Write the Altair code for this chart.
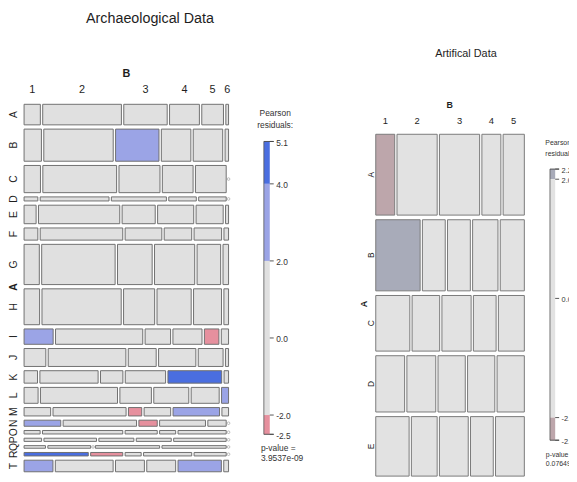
import altair as alt
import pandas as pd

# ---------------- data ----------------
left_title = "Archaeological Data"
left_rows = ["A", "B", "C", "D", "E", "F", "G", "H", "I", "J",
             "K", "L", "M", "N", "O", "P", "Q", "R", "T"]
left_cols = ["1", "2", "3", "4", "5", "6"]
left_counts = [
    [6, 29, 16, 11, 8, 1],
    [10, 40, 25, 17, 17, 2],
    [8, 36, 20, 15, 15, 0],
    [1, 5, 4, 2, 2, 0],
    [4, 27, 11, 12, 9, 1],
    [3, 18, 8, 6, 6, 1],
    [11, 53, 25, 29, 17, 4],
    [10, 51, 20, 22, 18, 3],
    [8, 24, 7, 8, 4, 2],
    [7, 25, 9, 12, 8, 1],
    [3, 13, 5, 9, 12, 1],
    [4, 22, 9, 10, 8, 2],
    [4, 11, 2, 4, 7, 1],
    [4, 8, 2, 5, 2, 0],
    [1, 5, 2, 1, 3, 0],
    [1, 3, 2, 2, 3, 0],
    [1, 2, 0, 3, 3, 0],
    [4, 2, 1, 3, 2, 0],
    [6, 12, 6, 6, 9, 1],
]
left_resid = [
    [0.0, 0.3, -0.4, 0.2, -0.6, 0.1],
    [-0.5, -1.2, 3.1, -0.3, 0.4, 0.2],
    [-0.2, 0.1, 0.3, 0.1, 0.9, -0.9],
    [0.1, 0.2, 0.6, 0.1, -0.2, -0.3],
    [-1.0, 1.2, -0.4, 0.6, 0.2, 0.3],
    [-0.4, 1.1, 0.3, -0.3, 0.2, 0.8],
    [-0.4, -0.5, 0.2, 1.2, -0.6, 1.0],
    [-0.4, 0.6, -0.2, 0.2, 0.1, 0.2],
    [2.8, 0.4, -0.5, 0.3, -2.2, 1.3],
    [0.9, 0.5, -0.1, 0.7, -0.1, 0.0],
    [-0.5, -0.3, -0.5, 0.4, 5.1, 0.6],
    [-0.3, 0.4, 0.3, 0.3, 0.0, 2.5],
    [1.2, 0.1, -2.1, -0.1, 3.2, 0.8],
    [2.6, 0.0, -2.3, 1.1, -0.2, -0.6],
    [0.0, 0.6, 0.3, -0.4, 1.0, -0.4],
    [0.4, -0.1, 0.5, 0.4, 1.3, -0.4],
    [0.5, -0.2, -1.3, 1.1, 1.4, -0.3],
    [4.6, -2.5, -0.6, 0.8, 0.3, -0.5],
    [3.1, -0.6, 0.4, -0.3, 3.3, 0.1],
]
left_legend_values = [5.1, 4.0, 2.0, 0.0, -2.0, -2.5]
left_legend_labels = ["5.1", "4.0", "2.0", "0.0", "-2.0", "-2.5"]
left_pvalue = "3.9537e-09"

right_title = "Artifical Data"
right_rows = ["A", "B", "C", "D", "E"]
right_cols = ["1", "2", "3", "4", "5"]
right_counts = [
    [17, 36, 36, 17, 19],
    [35, 18, 18, 20, 19],
    [21, 17, 18, 14, 16],
    [18, 18, 17, 17, 17],
    [22, 17, 19, 15, 19],
]
right_resid = [
    [-2.38, 0.6, 0.5, -0.4, 0.1],
    [2.17, -1.1, -1.0, 0.2, -0.3],
    [0.4, 0.1, 0.1, -0.3, 0.0],
    [-0.3, 0.3, 0.0, 0.4, -0.1],
    [0.2, -0.4, 0.2, -0.2, 0.3],
]
right_legend_values = [2.17, 2.0, 0.0, -2.0, -2.38]
right_legend_labels = ["2.2", "2.0", "0.0", "-2.0", "-2.4"]
right_pvalue = "0.07649"

# ---------------- layout / style ----------------
PAGE_W, PAGE_H, M = 577, 482, 8
W, H = PAGE_W - M, PAGE_H - M
XS = alt.Scale(domain=[M, PAGE_W], range=[0, W], nice=False, zero=False)
YS = alt.Scale(domain=[M, PAGE_H], range=[0, H], nice=False, zero=False)
FONT = "Liberation Sans"
TXT = "#1e1e1e"

LEFT_PAL = ["#e2606f", "#e6909e", "#e0e0e0", "#9ba4e6", "#4a6ee0"]
RIGHT_PAL = ["#b98f98", "#bda6ab", "#e2e2e2", "#a8abb9", "#8f93a8"]
THRESH = [-4, -2, 2, 4]


def mosaic(rows, cols, counts, resid, box, hgap, vgap):
    x0, x1, y0, y1 = box
    totals = [sum(r) for r in counts]
    n_all = sum(totals)
    avail_h = (y1 - y0) - vgap * (len(rows) - 1)
    avail_w = (x1 - x0) - hgap * (len(cols) - 1)
    recs = []
    y = y0
    for i, r in enumerate(rows):
        h = avail_h * totals[i] / n_all
        x = x0
        for j, c in enumerate(cols):
            w = avail_w * counts[i][j] / totals[i]
            recs.append(dict(row=r, col=c, n=counts[i][j], res=resid[i][j],
                             x=x, x2=x + w, y=y, y2=y + h,
                             xm=x + w / 2, ym=y + h / 2))
            x += w + hgap
        y += h + vgap
    return pd.DataFrame(recs)


def cells_layer(df, pal, stroke):
    return alt.Chart(df[df.n > 0]).mark_rect(stroke=stroke, strokeWidth=1).encode(
        x=alt.X("x:Q", scale=XS, axis=None), x2="x2:Q",
        y=alt.Y("y:Q", scale=YS, axis=None), y2="y2:Q",
        color=alt.Color("res:Q", scale=alt.Scale(type="threshold", domain=THRESH, range=pal),
                        legend=None),
    )


def zeros_layer(df):
    z = df[df.n == 0]
    return alt.Chart(z).mark_point(shape="circle", size=7, filled=False,
                                   color="#8a8a8a", strokeWidth=0.8).encode(
        x=alt.X("xm:Q", scale=XS, axis=None), y=alt.Y("ym:Q", scale=YS, axis=None))


def text_layer(df, size, weight="normal", angle=0, align="center", color=TXT, dy=0):
    return alt.Chart(df).mark_text(font=FONT, fontSize=size, fontWeight=weight, angle=angle,
                                   align=align, baseline="middle", color=color, dy=dy).encode(
        x=alt.X("x:Q", scale=XS, axis=None), y=alt.Y("y:Q", scale=YS, axis=None),
        text="t:N")


def legend_layers(values, labels, top_y, bot_y, bx0, bx1, pal, size):
    vmax, vmin = values[0], values[-1]

    def py(v):
        return top_y + (vmax - v) * (bot_y - top_y) / (vmax - vmin)

    bounds = [vmax] + [b for b in sorted(THRESH, reverse=True) if vmin < b < vmax] + [vmin]
    segs = pd.DataFrame([dict(y=py(hi), y2=py(lo), mid=(hi + lo) / 2, x=bx0, x2=bx1)
                         for hi, lo in zip(bounds[:-1], bounds[1:])])
    bar = alt.Chart(segs).mark_rect().encode(
        x=alt.X("x:Q", scale=XS, axis=None), x2="x2:Q",
        y=alt.Y("y:Q", scale=YS, axis=None), y2="y2:Q",
        color=alt.Color("mid:Q", scale=alt.Scale(type="threshold", domain=THRESH, range=pal),
                        legend=None))
    edge = alt.Chart(pd.DataFrame([dict(x=bx0, y=py(vmax), y2=py(vmin))])).mark_rule(
        color="#555555", strokeWidth=0.8).encode(
        x=alt.X("x:Q", scale=XS, axis=None), y=alt.Y("y:Q", scale=YS, axis=None), y2="y2:Q")
    ticks = pd.DataFrame([dict(x=bx1, x2=bx1 + 4, y=py(v)) for v in values])
    ends = pd.DataFrame([dict(x=bx0, x2=bx1 + 4, y=py(v)) for v in (vmax, vmin)])
    tick_l = alt.Chart(pd.concat([ticks, ends])).mark_rule(color="#444444", strokeWidth=0.9).encode(
        x=alt.X("x:Q", scale=XS, axis=None), x2="x2:Q", y=alt.Y("y:Q", scale=YS, axis=None))
    labs = pd.DataFrame([dict(x=bx1 + 6.5, y=py(v), t=l) for v, l in zip(values, labels)])
    lab_l = text_layer(labs, size, align="left", color="#333333", dy=1.5)
    return [bar, edge, tick_l, lab_l]


# ---------------- left mosaic ----------------
L_BOX = (24.3, 231.7, 102.3, 475.0)
ldf = mosaic(left_rows, left_cols, left_counts, left_resid, L_BOX, 2.4, 4.3)
l_top = ldf[ldf.row == left_rows[0]]
l_first = ldf[ldf.col == left_cols[0]]
l_collab = pd.DataFrame(dict(x=l_top.xm, y=87.5, t=l_top.col))
l_rowlab = pd.DataFrame(dict(x=14.0, y=l_first.ym, t=l_first.row))

# ---------------- right mosaic ----------------
R_BOX = (381.0, 531.7, 132.7, 479.4)
rdf = mosaic(right_rows, right_cols, right_counts, right_resid, R_BOX, 2.3, 4.7)
r_top = rdf[rdf.row == right_rows[0]]
r_first = rdf[rdf.col == right_cols[0]]
r_collab = pd.DataFrame(dict(x=r_top.xm, y=119.0, t=r_top.col))
r_rowlab = pd.DataFrame(dict(x=376.0, y=r_first.ym, t=r_first.row))

layers = [
    cells_layer(ldf, LEFT_PAL, "#707070"),
    zeros_layer(ldf),
    cells_layer(rdf, RIGHT_PAL, "#7a7a7a"),
    text_layer(pd.DataFrame([dict(x=152, y=15.5, t=left_title)]), 14.5),
    text_layer(pd.DataFrame([dict(x=128, y=71.5, t="B")]), 11, weight="bold"),
    text_layer(l_collab, 11),
    text_layer(l_rowlab, 10.5, angle=270),
    text_layer(pd.DataFrame([dict(x=14.0, y=287.5, t="A")]), 10.5, weight="bold", angle=270),
    text_layer(pd.DataFrame([dict(x=279, y=111.5, t="Pearson"), dict(x=279, y=123, t="residuals:")]),
               8.5, color="#333333"),
    text_layer(pd.DataFrame([dict(x=264.5, y=450.5, t="p-value ="), dict(x=264.5, y=461.5, t=left_pvalue)]),
               8.5, align="left", color="#333333"),
    text_layer(pd.DataFrame([dict(x=472.5, y=51.5, t=right_title)]), 11),
    text_layer(pd.DataFrame([dict(x=456, y=103, t="B")]), 9, weight="bold"),
    text_layer(r_collab, 9.5),
    text_layer(r_rowlab, 8.5, angle=270),
    text_layer(pd.DataFrame([dict(x=369.5, y=305, t="A")]), 9, weight="bold", angle=270),
    text_layer(pd.DataFrame([dict(x=553, y=141.5, t="Pearson"), dict(x=553, y=152.5, t="residuals:")]),
               7, align="left", color="#333333"),
    text_layer(pd.DataFrame([dict(x=553.5, y=458.5, t="p-value ="), dict(x=553.5, y=467.5, t=right_pvalue)]),
               7, align="left", color="#333333"),
]
layers += legend_layers(left_legend_values, left_legend_labels, 140.0, 437.0, 267.5, 273.5, LEFT_PAL, 8.5)
layers += legend_layers(right_legend_values, right_legend_labels, 168.0, 443.0, 557.7, 563.0, RIGHT_PAL, 7.5)

chart = alt.layer(*layers).resolve_scale(color="independent").properties(
    width=W, height=H, autosize=alt.AutoSizeParams(type="none"), padding=0,
    background="white",
).configure_view(strokeWidth=0)

chart.save("out.html", embed_options={"renderer": "svg", "actions": False})
